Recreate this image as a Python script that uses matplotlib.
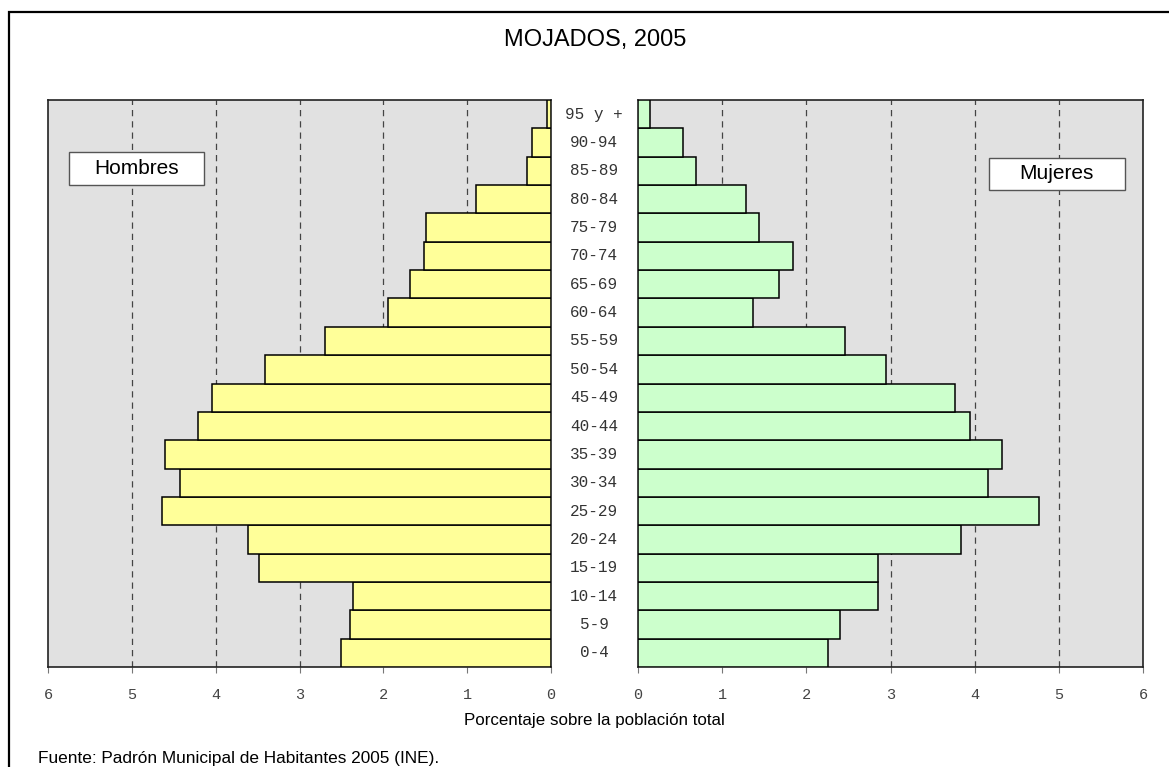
import matplotlib.pyplot as plt
import matplotlib.transforms as mtransforms
from matplotlib.lines import Line2D

# age groups, bottom to top
ages = ['0-4', '5-9', '10-14', '15-19', '20-24', '25-29', '30-34', '35-39',
        '40-44', '45-49', '50-54', '55-59', '60-64', '65-69', '70-74',
        '75-79', '80-84', '85-89', '90-94', '95 y +']

# percentages
hombres = [2.50, 2.40, 2.36, 3.48, 3.61, 4.64, 4.43, 4.60, 4.21, 4.04,
           3.41, 2.69, 1.94, 1.68, 1.52, 1.49, 0.89, 0.29, 0.23, 0.05]
mujeres = [2.26, 2.40, 2.85, 2.85, 3.84, 4.76, 4.16, 4.33, 3.94, 3.77,
           2.95, 2.46, 1.37, 1.67, 1.84, 1.44, 1.28, 0.69, 0.54, 0.14]

xticks = [0, 1, 2, 3, 4, 5, 6]

W, H = 1169, 767
fig = plt.figure(figsize=(W / 100, H / 100), dpi=100)
fig.patch.set_facecolor('white')

# frame: only the top and left edges are visible (the rest is cropped)
fig.add_artist(Line2D([8.5 / W, 8.5 / W, 1.0], [0.0, 1 - 12 / H, 1 - 12 / H],
                      transform=fig.transFigure, color='black', linewidth=1.6,
                      solid_joinstyle='miter'))

bottom = 1 - 667 / H
height = 567 / H
ax_l = fig.add_axes([48 / W, bottom, 503 / W, height])
ax_r = fig.add_axes([638 / W, bottom, 505 / W, height])

pos = list(range(len(ages)))

for ax, vals, color in [(ax_l, hombres, '#ffff99'), (ax_r, mujeres, '#ccffcc')]:
    ax.set_facecolor('#e1e1e1')
    ax.barh(pos, vals, height=1.0, color=color, edgecolor='black', linewidth=1.1, zorder=3)
    ax.set_xlim(0, 6)
    ax.set_ylim(-0.5, len(ages) - 0.5)
    ax.set_xticks(xticks)
    ax.set_xticklabels([str(t) for t in xticks], fontfamily='Liberation Mono',
                       fontsize=11, color='#444444')
    for x in xticks[1:-1]:
        ax.axvline(x, color='#444444', linestyle=(0, (5, 4)), linewidth=0.9, zorder=1)
    ax.set_yticks([])
    ax.tick_params(axis='x', length=4, color='#777777', pad=11)
    for s in ax.spines.values():
        s.set_color('#222222')
        s.set_linewidth(1.2)

ax_l.invert_xaxis()

# age labels in the gap between the two panels
trans = mtransforms.blended_transform_factory(fig.transFigure, ax_r.transData)
for p, a in zip(pos, ages):
    ax_r.text(594 / W, p, a, transform=trans, ha='center', va='center',
              fontfamily='Liberation Mono', fontsize=11.5, color='#333333')

# sex label boxes
for ax, x0, y0, w, h, label in [(ax_l, 0.0417, 0.850, 0.268, 0.058, 'Hombres'),
                                 (ax_r, 0.695, 0.841, 0.269, 0.057, 'Mujeres')]:
    ax.add_patch(plt.Rectangle((x0, y0), w, h, transform=ax.transAxes, fc='white',
                               ec='#555555', lw=1, zorder=5))
    ax.text(x0 + w / 2, y0 + h / 2, label, transform=ax.transAxes, fontsize=15,
            fontfamily='Liberation Sans', ha='center', va='center', zorder=6)

fig.text(595 / W, 1 - 40 / H, 'MOJADOS, 2005', ha='center', va='center',
         fontsize=17, fontfamily='Liberation Sans')
fig.text(594 / W, 1 - 720 / H, 'Porcentaje sobre la población total', ha='center',
         va='center', fontsize=12.2, fontfamily='Liberation Sans')
fig.text(38 / W, 1 - 759 / H, 'Fuente: Padrón Municipal de Habitantes 2005 (INE).',
         ha='left', va='center', fontsize=12.4, fontfamily='Liberation Sans')

fig.savefig('out.png', dpi=100)
